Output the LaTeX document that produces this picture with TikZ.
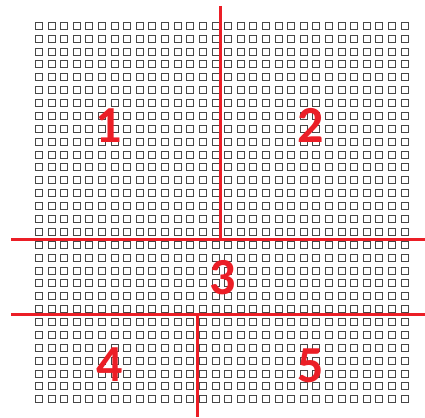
\documentclass[tikz,border=0pt]{standalone}
\usepackage{fontspec}
\setmainfont{Carlito}
\definecolor{zred}{RGB}{235,30,38}
\tikzset{
  cell/.style={draw=black!72, line width=1pt},
  divider/.style={draw=zred, line width=2.8pt},
  zonelabel/.style={text=zred, font=\bfseries\fontsize{52}{52}\selectfont, inner sep=0pt, anchor=center}
}
\begin{document}
\begin{tikzpicture}[x=1pt,y=-1pt]
\useasboundingbox (0,0) rectangle (425,417);
\fill[white] (0,0) rectangle (425,417);
\foreach \i in {0,...,29}{
  \foreach \j in {0,...,29}{
    \draw[cell] ({35.5+12.61*\i},{22.3+12.88*\j}) rectangle ++(7,7);
  }
}
\coordinate (vt) at (220.7,6);
\coordinate (h1l) at (11,239.3);
\coordinate (h1r) at (425,239.3);
\coordinate (vm) at (220.7,239.3);
\coordinate (h2l) at (11,314.5);
\coordinate (h2r) at (425,314.5);
\coordinate (vb1) at (197.3,314.5);
\coordinate (vb2) at (197.3,417);
\draw[divider] (vt) -- (vm);
\draw[divider] (h1l) -- (h1r);
\draw[divider] (h2l) -- (h2r);
\draw[divider] (vb1) -- (vb2);
\node[zonelabel] (z1) at (109,125.5) {1};
\node[zonelabel] (z2) at (310.5,125.5) {2};
\node[zonelabel] (z3) at (222.5,277.5) {3};
\node[zonelabel] (z4) at (110,365) {4};
\node[zonelabel] (z5) at (311,365.5) {5};
\end{tikzpicture}
\end{document}
